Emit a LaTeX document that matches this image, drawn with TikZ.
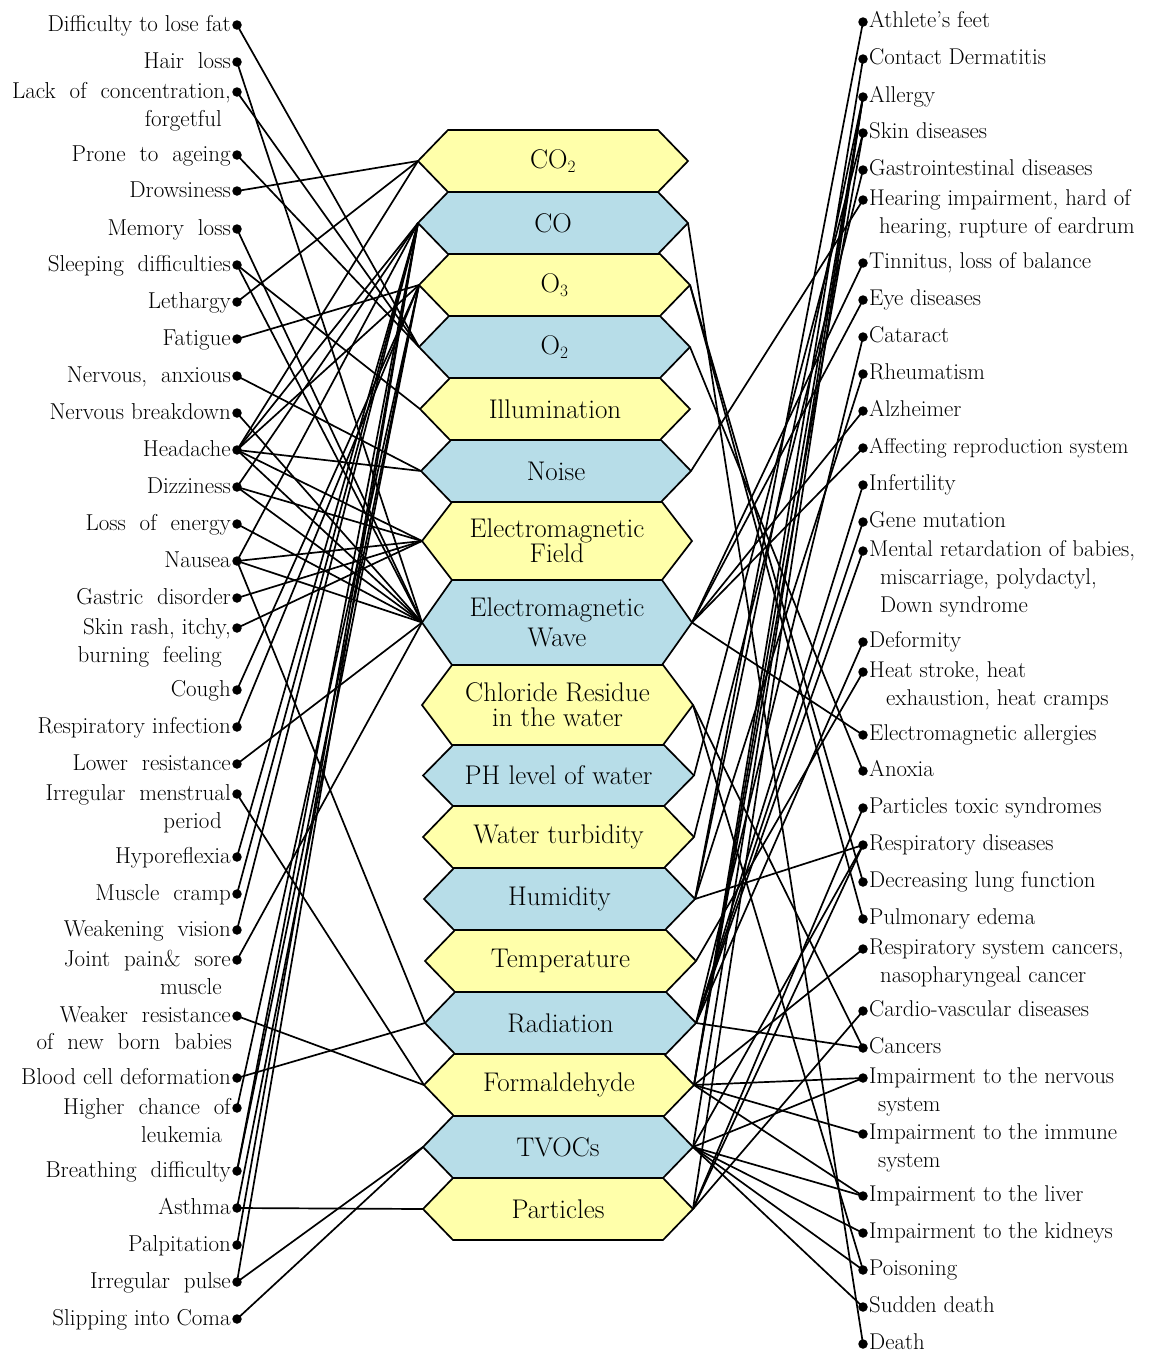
\documentclass[tikz,border=0pt]{standalone}
\usepackage{tikz}
\pgfdeclarelayer{background}
\pgfsetlayers{background,main}
\definecolor{hexY}{RGB}{255,255,170}
\definecolor{hexB}{RGB}{183,221,232}
\tikzset{
  x=1pt,y=-1pt,
  dotnode/.style={circle,fill=black,inner sep=0pt,minimum size=9.5pt},
  ltext/.style={anchor=east,inner sep=0pt,font=\fontsize{23}{26}\selectfont,text height=16.5pt,text depth=4.5pt},
  rtext/.style={anchor=west,inner sep=0pt,font=\fontsize{22.8}{26}\selectfont,text height=16pt,text depth=4.5pt},
  hexbox/.style={draw=black,line width=1.7pt,line join=miter},
  hextext/.style={align=center,inner sep=0pt,font=\fontsize{27}{25}\selectfont},
  conn/.style={draw=black,line width=1.7pt}
}
\newcommand\hexa[7]{%
  \pgfmathsetmacro\hmy{(#4+#5)/2}%
  \pgfmathsetmacro\hmx{(#2+#3)/2}%
  \draw[hexbox,fill=#6] (#2,\hmy) -- (#2+30,#4) -- (#3-30,#4) -- (#3,\hmy) -- (#3-30,#5) -- (#2+30,#5) -- cycle;
  \coordinate (#1-L) at (#2,\hmy);
  \coordinate (#1-R) at (#3,\hmy);
  \node[hextext] (#1) at (\hmx,\hmy) {#7};
}
\begin{document}
\begin{tikzpicture}
\useasboundingbox (0,0) rectangle (1149,1352);
% hexagons
\hexa{CO2}{418}{688}{130}{192}{hexY}{CO$_2$}
\hexa{CO}{418}{688}{192}{254}{hexB}{CO}
\hexa{O3}{419}{690}{254}{316}{hexY}{O$_3$}
\hexa{O2}{419}{690}{316}{378}{hexB}{O$_2$}
\hexa{Ill}{420}{690}{378}{440}{hexY}{Illumination}
\hexa{Noi}{421}{691}{440}{502}{hexB}{Noise}
\hexa{EMF}{422}{692}{502}{580}{hexY}{Electromagnetic\\Field}
\hexa{EMW}{422}{692}{580}{665}{hexB}{Electromagnetic\\[5pt]Wave}
\hexa{Chl}{422}{693}{665}{745}{hexY}{Chloride Residue\\in the water}
\hexa{PH}{423}{694}{745}{806}{hexB}{PH level of water}
\hexa{Tur}{423}{694}{806}{868}{hexY}{Water turbidity}
\hexa{Hum}{424}{695}{868}{930}{hexB}{Humidity}
\hexa{Tem}{425}{696}{930}{992}{hexY}{Temperature}
\hexa{Rad}{425}{696}{992}{1054}{hexB}{Radiation}
\hexa{For}{424}{694}{1054}{1116}{hexY}{Formaldehyde}
\hexa{TVO}{423}{693}{1116}{1178}{hexB}{TVOCs}
\hexa{Par}{423}{693}{1178}{1240}{hexY}{Particles}
% left items
\foreach \i/\y/\t in {1/25/Difficulty to lose fat,2/62/Hair\ \ loss,3/92/Lack\ \ of\ \ concentration{,},
 4/155/Prone\ \ to\ \ ageing,5/191/Drowsiness,6/229/Memory\ \ loss,7/265/Sleeping\ \ difficulties,
 8/302/Lethargy,9/339/Fatigue,10/376/Nervous{,}\ \ anxious,11/413/Nervous breakdown,12/450/Headache,
 13/487/Dizziness,14/524/Loss\ \ of\ \ energy,15/561/Nausea,16/598/Gastric\ \ disorder,17/628/Skin rash{,} itchy{,},
 18/690/Cough,19/727/Respiratory infection,20/764/Lower\ \ resistance,21/794/Irregular\ \ menstrual,
 22/857/Hyporeflexia,23/894/Muscle\ \ cramp,24/930/Weakening\ \ vision,25/960/Joint\ \ pain\& \ sore,
 26/1016/Weaker\ \ resistance,27/1078/Blood cell deformation,28/1108/Higher\ \ chance\ \ of,
 29/1171/Breathing\ \ difficulty,30/1208/Asthma,31/1245/Palpitation,32/1282/Irregular\ \ pulse,33/1319/Slipping into Coma}
{
  \node[dotnode] (L\i) at (237,\y) {};
  \node[ltext] (LT\i) at (231,\y) {\t};
}
\node[ltext] (LT3b) at (222,120) {forgetful};
\node[ltext] (LT17b) at (222,656) {burning\ \ feeling};
\node[ltext] (LT21b) at (222,822) {period};
\node[ltext] (LT25b) at (222,988) {muscle};
\node[ltext] (LT26b) at (232,1043) {of\ \ new\ \ born\ \ babies};
\node[ltext] (LT28b) at (222,1136) {leukemia};
% right items
\foreach \i/\y/\t in {1/22/Athlete’s feet,2/59/Contact Dermatitis,3/97/Allergy,4/133/Skin diseases,
 5/170/Gastrointestinal diseases,6/200/Hearing impairment{,} hard of,7/263/Tinnitus{,} loss of balance,
 8/300/Eye diseases,9/337/Cataract,10/374/Rheumatism,11/411/Alzheimer,
 12/448/{\fontsize{21.5}{24}\selectfont Affecting reproduction system},13/485/Infertility,14/522/Gene mutation,
 15/551/Mental retardation of babies{,},16/642/Deformity,17/672/Heat stroke{,} heat,
 18/735/Electromagnetic allergies,19/771/Anoxia,20/808/Particles toxic syndromes,21/845/Respiratory diseases,
 22/882/Decreasing lung function,23/919/Pulmonary edema,24/949/Respiratory system cancers{,},
 25/1011/Cardio-vascular diseases,26/1048/Cancers,27/1078/Impairment to the nervous,
 28/1134/Impairment to the immune,29/1196/Impairment to the liver,30/1233/Impairment to the kidneys,
 31/1270/Poisoning,32/1307/Sudden death,33/1344/Death}
{
  \node[dotnode] (R\i) at (863,\y) {};
  \node[rtext] (RT\i) at (869,\y) {\t};
}
\node[rtext] (RT6b) at (879,228) {hearing, rupture of eardrum};
\node[rtext] (RT15b) at (880,579) {miscarriage, polydactyl,};
\node[rtext] (RT15c) at (880,607) {Down syndrome};
\node[rtext] (RT17b) at (886,700) {exhaustion, heat cramps};
\node[rtext] (RT24b) at (880,977) {nasopharyngeal cancer};
\node[rtext] (RT27b) at (878,1106) {system};
\node[rtext] (RT28b) at (878,1162) {system};
% connectors
\begin{pgfonlayer}{background}
\foreach \a/\b in {1/O2,2/EMW,3/O2,4/O2,5/CO2,6/EMW,7/Ill,7/EMW,8/CO2,9/O3,10/Noi,11/EMW,
 12/CO2,12/CO,12/O3,12/Noi,12/EMF,12/EMW,13/EMF,13/EMW,13/CO,14/EMW,15/EMF,15/EMW,15/CO,15/Rad,
 16/EMF,17/EMF,18/O3,19/O3,20/EMW,21/For,22/CO,23/CO,24/CO,25/EMW,26/For,27/Rad,28/O3,
 29/CO,29/O3,30/Par,30/O3,31/CO,32/CO,32/TVO,33/TVO}
  \draw[conn] (L\a.center) -- (\b-L);
\foreach \a/\b in {1/Hum,2/For,3/Hum,3/For,3/TVO,3/Par,4/For,4/PH,5/Tur,6/Noi,7/EMW,8/EMW,
 9/Rad,10/Hum,11/EMW,12/EMW,13/Rad,14/Rad,15/Rad,16/Rad,17/Tem,18/EMW,19/O2,20/Par,21/Hum,21/Par,
 21/TVO,22/O3,23/O3,24/For,25/Par,26/Rad,26/Chl,27/For,27/TVO,28/For,29/For,29/TVO,30/TVO,
 31/TVO,31/Chl,32/TVO,33/CO}
  \draw[conn] (R\a.center) -- (\b-R);
\end{pgfonlayer}
\end{tikzpicture}
\end{document}
